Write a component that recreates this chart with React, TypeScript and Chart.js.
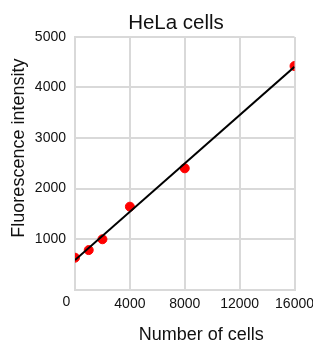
import React, { useEffect, useRef } from "react";
import { Chart, registerables } from "chart.js";

Chart.register(...registerables);

const cellCounts = [0, 1000, 2000, 4000, 8000, 16000];
const intensities = [630, 780, 995, 1640, 2400, 4425];
const fitX = [0, 16000];
const fitY = [585, 4410];
const xTicks = [0, 4000, 8000, 12000, 16000];
const yTicks = [0, 1000, 2000, 3000, 4000, 5000];

const chartTitle = "HeLa cells";
const xTitle = "Number of cells";
const yTitle = "Fluorescence intensity";

const FONT = "'Liberation Sans', Arial, sans-serif";
const GRID = "#d9d9d9";
const TEXT = "#111111";

const textPlugin = {
  id: "customTexts",
  afterDraw(chart: any) {
    const { ctx, chartArea } = chart;
    const ca = chartArea;
    const w = ca.right - ca.left;
    const h = ca.bottom - ca.top;
    ctx.save();
    ctx.fillStyle = TEXT;
    ctx.textAlign = "center";
    ctx.textBaseline = "alphabetic";
    ctx.font = `20.5px ${FONT}`;
    ctx.fillText(chartTitle, ca.left + w * 0.46, ca.top - 8);
    ctx.font = `18px ${FONT}`;
    ctx.fillText(xTitle, ca.left + w * 0.575, ca.bottom + 50);
    ctx.font = `18px ${FONT}`;
    ctx.translate(ca.left - 51, ca.top + h * 0.44);
    ctx.rotate(-Math.PI / 2);
    ctx.fillText(yTitle, 0, 0);
    ctx.restore();
    ctx.save();
    ctx.fillStyle = TEXT;
    ctx.font = `14px ${FONT}`;
    ctx.textAlign = "center";
    ctx.textBaseline = "alphabetic";
    ctx.fillText(String(xTicks[0]), ca.left - 8.5, ca.bottom + 16);
    ctx.restore();
  },
};

export default function App() {
  const ref = useRef<HTMLCanvasElement | null>(null);
  useEffect(() => {
    if (!ref.current) return;
    const chart = new Chart(ref.current, {
      type: "scatter",
      data: {
        datasets: [
          {
            type: "line",
            data: fitX.map((x, i) => ({ x, y: fitY[i] })),
            borderColor: "#000000",
            borderWidth: 2,
            pointRadius: 0,
            fill: false,
            order: 0,
          } as any,
          {
            type: "scatter",
            data: cellCounts.map((x, i) => ({ x, y: intensities[i] })),
            backgroundColor: "#ff0000",
            borderColor: "#ff0000",
            pointRadius: 4.5,
            order: 1,
          },
        ],
      },
      options: {
        animation: false,
        responsive: false,
        maintainAspectRatio: false,
        layout: { padding: { top: 37, left: 0, right: 0, bottom: 0 } },
        plugins: {
          legend: { display: false },
          title: { display: false },
          tooltip: { enabled: false },
        },
        scales: {
          x: {
            type: "linear",
            min: xTicks[0],
            max: xTicks[xTicks.length - 1],
            afterBuildTicks: (s: any) => {
              s.ticks = xTicks.map((v) => ({ value: v }));
            },
            afterFit: (s: any) => {
              s.height = 52.5;
            },
            grid: { color: GRID, lineWidth: 2, drawTicks: false },
            border: { color: GRID, width: 2 },
            ticks: {
              color: TEXT,
              font: { family: FONT, size: 14 },
              padding: 6,
              maxRotation: 0,
              callback: (v: any) => (v === 0 ? "" : String(v)),
            },
          },
          y: {
            type: "linear",
            min: yTicks[0],
            max: yTicks[yTicks.length - 1],
            afterBuildTicks: (s: any) => {
              s.ticks = yTicks.map((v) => ({ value: v }));
            },
            afterFit: (s: any) => {
              s.width = 75;
            },
            grid: { color: GRID, lineWidth: 2, drawTicks: false },
            border: { color: GRID, width: 2 },
            ticks: {
              color: TEXT,
              font: { family: FONT, size: 14 },
              padding: 9,
              callback: (v: any) => (v === 0 ? "" : String(v)),
            },
          },
        },
      },
      plugins: [textPlugin],
    });
    return () => chart.destroy();
  }, []);
  return (
    <div style={{ position: "absolute", left: 0, top: 0, width: 313, height: 342, overflow: "hidden" }}>
      <canvas ref={ref} width={320} height={342} style={{ display: "block", width: 320, height: 342 }} />
    </div>
  );
}
